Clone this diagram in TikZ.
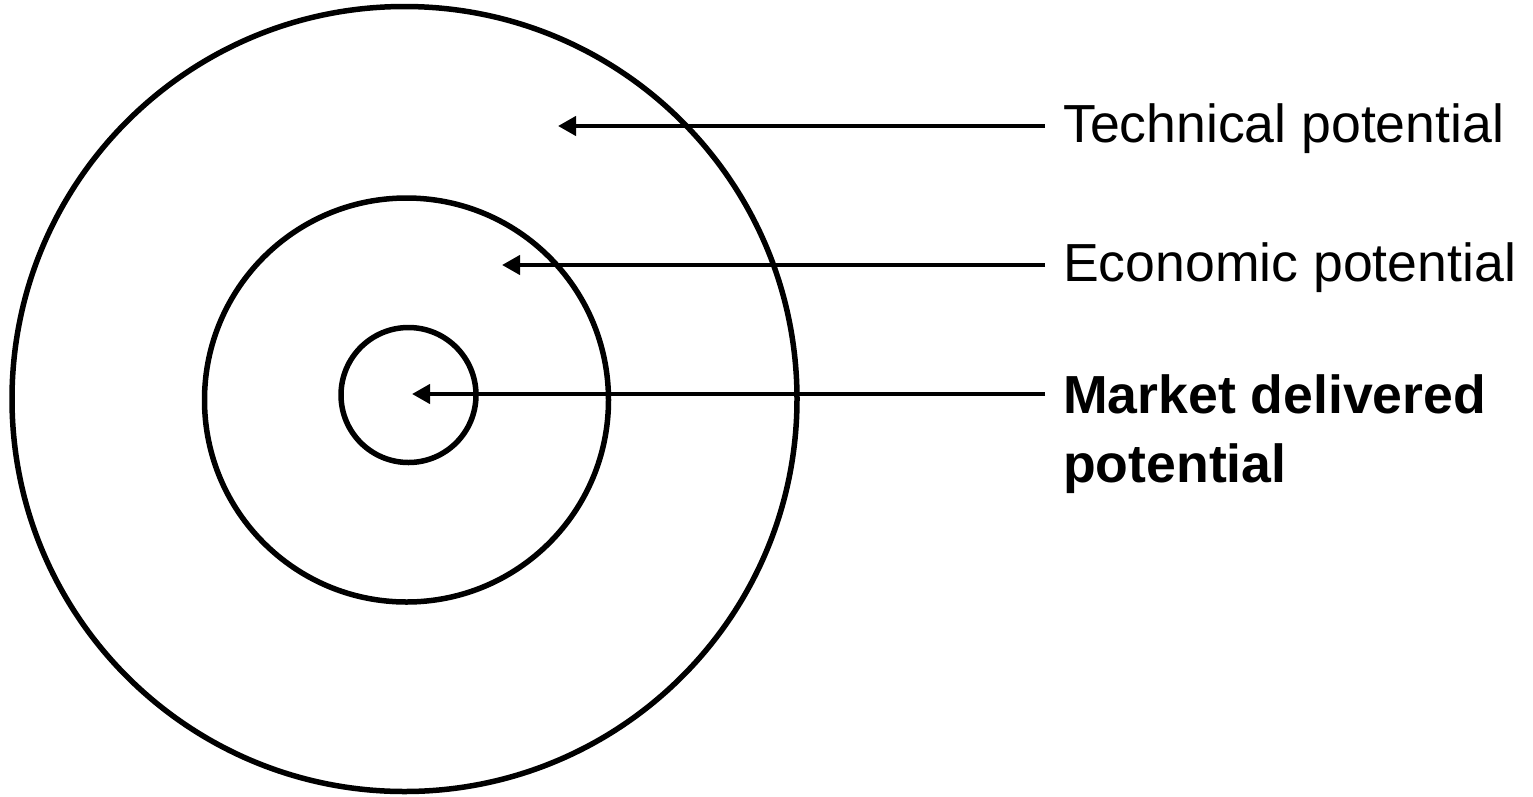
\documentclass[tikz,border=0pt]{standalone}
\usepackage{fontspec}
\setmainfont{Liberation Sans}
\usetikzlibrary{arrows.meta}
\begin{document}
\begin{tikzpicture}[x=1pt,y=-1pt,
  ring/.style={draw=black,line width=5.5pt,circle,inner sep=0pt},
  arr/.style={line width=4.2pt,-{Triangle[length=18pt,width=19pt]}},
  lbl/.style={anchor=base west,inner sep=0pt,font=\fontsize{53.6}{69}\selectfont,align=left}]
\useasboundingbox (0,0) rectangle (1533,796);
\node[ring,minimum size=785pt] (outer) at (404.5,399) {};
\node[ring,minimum size=404pt] (middle) at (406.5,400) {};
\node[ring,minimum size=135pt] (inner) at (408.5,395) {};
\node[lbl] (tech) at (1063,142) {Technical potential};
\node[lbl] (econ) at (1063,281) {Economic potential};
\node[lbl] (mkt) at (1063,482) {\textbf{Market delivered}\\\textbf{potential}};
\coordinate (t1) at (1045,126); \coordinate (t2) at (558,126);
\coordinate (e1) at (1045,265); \coordinate (e2) at (502,265);
\coordinate (m1) at (1045,394); \coordinate (m2) at (412,394);
\draw[arr] (t1) -- (t2);
\draw[arr] (e1) -- (e2);
\draw[arr] (m1) -- (m2);
\end{tikzpicture}
\end{document}
